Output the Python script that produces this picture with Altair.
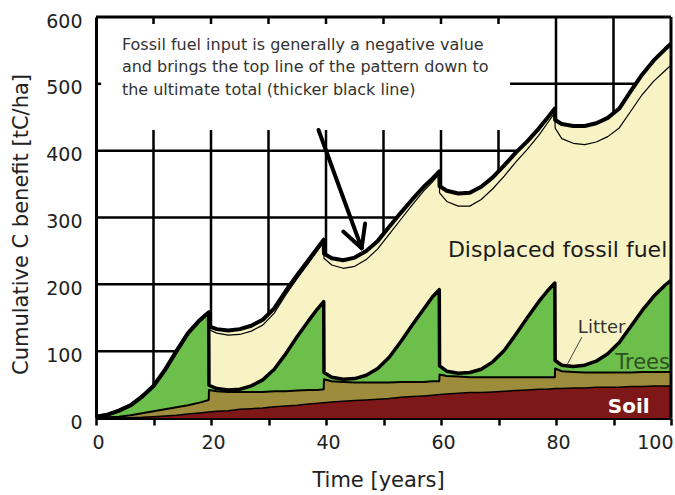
import altair as alt
import pandas as pd

FONT = "DejaVu Sans"

# ---- data (years, tC/ha) ----
t = [0, 2, 4, 6, 8, 10, 12, 14, 16, 18, 19.6,
     19.65, 21, 23, 25, 27, 29, 31, 33, 35, 37, 38.5, 39.6,
     39.65, 41, 43, 45, 47, 49, 51, 53, 55, 57, 58.5, 59.7,
     59.75, 61, 63, 65, 67, 69, 71, 73, 75, 77, 78.5, 79.8,
     79.85, 81, 83, 85, 87, 89, 91, 93, 95, 97, 99, 100]

soil = [0, 0, 0, 0.5, 1, 2, 3, 4, 6, 7.5, 9,
        9, 10, 11, 13, 14, 15, 17, 18, 19, 21, 22, 23,
        23, 24, 25, 26, 27, 28, 29, 31, 32, 33, 34, 35,
        35, 36, 37, 38, 38, 39, 40, 41, 42, 43, 43, 44,
        44, 44, 45, 45, 46, 46, 46, 47, 47, 48, 48, 48]

litter_top = [0, 1, 2, 4, 7, 10, 13, 16, 19, 23, 27,
              42, 40, 39, 39, 39, 39, 40, 40, 41, 42, 42, 43,
              58, 55, 54, 53, 53, 53, 53, 54, 54, 54, 55, 55,
              65, 63, 62, 61, 61, 61, 61, 61, 61, 61, 61, 61,
              74, 70, 69, 68, 68, 68, 68, 68, 69, 69, 69, 69]

trees_top = [2, 5, 11, 19, 32, 48, 72, 100, 127, 146, 158,
             49, 44, 42, 43, 48, 57, 73, 96, 122, 146, 163, 174,
             68, 61, 58, 59, 64, 74, 91, 114, 139, 163, 181, 192,
             78, 70, 67, 68, 73, 84, 101, 125, 150, 174, 190, 202,
             86, 79, 77, 79, 85, 96, 113, 137, 161, 182, 199, 206]

total = [2, 5, 11, 19, 32, 48, 72, 100, 127, 146, 158,
         137, 133, 131, 133, 138, 147, 164, 190, 214, 237, 254, 267,
         246, 239, 236, 240, 250, 265, 286, 307, 327, 346, 358, 369,
         347, 340, 336, 337, 346, 360, 378, 397, 414, 433, 449, 463,
         446, 440, 437, 437, 441, 449, 463, 489, 514, 535, 552, 560]

# offset between the thick total line and the thin line below it
fossil_gap = ([None] * 11
              + [5, 6, 7, 8, 8, 8, 7, 6, 5, 5, 4, 4]
              + [7, 10, 12, 13, 13, 12, 11, 10, 8, 6, 5, 4]
              + [10, 16, 19, 20, 19, 17, 16, 14, 12, 10, 8, 6]
              + [12, 22, 26, 28, 28, 28, 29, 30, 30, 31, 32, 32])

# grid pieces
vgrid_t = [10, 20, 30, 40, 50, 60, 70, 80, 90]
vgrid_top = [431, 431, 431, 431, 431, 431, 431, 600, 600]
hgrid_v = [100, 200, 300, 400, 500]
hgrid_start = [0, 0, 0, 0, 72]
top_ticks_t = [10, 20, 30, 40, 50, 60, 70]

# annotation
note_lines = ["Fossil fuel input is generally a negative value",
              "and brings the top line of the pattern down to",
              "the ultimate total (thicker black line)"]
note_v = [551, 518, 484]
arrow_x = [38.7, 43.0, 46.8]
arrow_y = [431, 279, 291]
arrow_tip = (46.2, 254)
litter_leader = (84.5, 121, 82.0, 81)

# ---- tables ----
df = pd.DataFrame({
    "t": t, "zero": [0.0] * len(t), "soil": soil, "litter": litter_top,
    "trees": trees_top, "total": total,
    "thin": [None if g is None else tot - g for tot, g in zip(total, fossil_gap)],
})
df["i"] = range(len(df))

seg_rows = []
for x, top in zip(vgrid_t, vgrid_top):
    seg_rows.append(dict(x=x, x2=x, y=0, y2=top))
for v, s in zip(hgrid_v, hgrid_start):
    seg_rows.append(dict(x=s, x2=100, y=v, y2=v))
for x in top_ticks_t:
    seg_rows.append(dict(x=x, x2=x, y=600, y2=589.5))
seg_rows.append(dict(x=0, x2=0.9, y=500, y2=500))
grid_df = pd.DataFrame(seg_rows)

frame_df = pd.DataFrame([dict(x=0, x2=100, y=600, y2=600),
                         dict(x=100, x2=100, y=0, y2=600)])

arrow_df = pd.DataFrame([dict(x=ax, x2=arrow_tip[0], y=ay, y2=arrow_tip[1])
                         for ax, ay in zip(arrow_x, arrow_y)])
leader_df = pd.DataFrame([dict(x=litter_leader[0], y=litter_leader[1],
                               x2=litter_leader[2], y2=litter_leader[3])])

note_df = pd.DataFrame({"x": [4.5] * 3, "y": note_v, "text": note_lines})

XS = alt.Scale(domain=[0, 100], nice=False, zero=False)
YS = alt.Scale(domain=[0, 600], nice=False, zero=False)


def X(f):
    return alt.X(f, type="quantitative", scale=XS)


def Y(f):
    return alt.Y(f, type="quantitative", scale=YS)


xaxis = alt.Axis(
    values=list(range(0, 101, 10)),
    labelExpr="datum.value % 20 == 0 ? datum.label : ''",
    labelAlign={"condition": {"test": "datum.value == 100", "value": "right"},
                "value": "center"},
    tickSize=7, tickWidth=2.5, tickColor="black",
    domainColor="black", domainWidth=3,
    labelFont=FONT, labelFontSize=19, labelColor="#222",
    labelPadding=8, labelOffset=2, labelFlush=False, labelOverlap=False,
    title="Time [years]", titleFont=FONT, titleFontSize=21,
    titleFontWeight="normal", titleColor="#222",
    titleX=282, titleY=68, titleBaseline="alphabetic",
    grid=False)

yaxis = alt.Axis(
    values=list(range(0, 601, 100)), ticks=False,
    domainColor="black", domainWidth=3,
    labelFont=FONT, labelFontSize=19, labelColor="#222",
    labelPadding=14, labelOffset=4, labelFlush=False,
    title="Cumulative C benefit [tC/ha]", titleFont=FONT, titleFontSize=21,
    titleFontWeight="normal", titleColor="#222",
    titleX=-65, titleY=207, grid=False)

grid = alt.Chart(grid_df).mark_rule(color="black", strokeWidth=2.5).encode(
    x=alt.X("x:Q", scale=XS, axis=xaxis),
    y=alt.Y("y:Q", scale=YS, axis=yaxis),
    x2="x2:Q", y2="y2:Q")

base = alt.Chart(df)
order = alt.Order("i:Q")


def band(lo, hi, color):
    return base.mark_area(fill=color, opacity=1, stroke=None).encode(
        x=X("t"), y=alt.Y(hi, type="quantitative", scale=YS, stack=None),
        y2=alt.Y2(lo))


soil_area = band("zero", "soil", "#7d1718")
litter_area = band("soil", "litter", "#9c8c3c")
trees_area = band("litter", "trees", "#6cbf4a")
fuel_area = band("trees", "total", "#f8f3c5")


def line(field, w):
    return base.mark_line(color="black", strokeWidth=w, strokeJoin="round").encode(
        x=X("t"), y=Y(field), order=order)


soil_line = line("soil", 1.5)
litter_line = line("litter", 2)
trees_line = line("trees", 3.5)
thin_line = line("thin", 1.2)
total_line = line("total", 4)

frame = alt.Chart(frame_df).mark_rule(color="black", strokeWidth=3).encode(
    x=X("x"), x2="x2:Q", y=Y("y"), y2="y2:Q")

arrow = alt.Chart(arrow_df).mark_rule(color="black", strokeWidth=4, strokeCap="round").encode(
    x=X("x"), x2="x2:Q", y=Y("y"), y2="y2:Q")

leader = alt.Chart(leader_df).mark_rule(color="#444", strokeWidth=1).encode(
    x=X("x"), x2="x2:Q", y=Y("y"), y2="y2:Q")

note = alt.Chart(note_df).mark_text(
    font=FONT, fontSize=16, color="#333", align="left", baseline="alphabetic"
).encode(x=X("x"), y=Y("y"), text="text:N")


def label(txt, x, y, size, color, weight="normal"):
    d = pd.DataFrame({"x": [x], "y": [y], "text": [txt]})
    return alt.Chart(d).mark_text(
        font=FONT, fontSize=size, color=color, fontWeight=weight,
        align="left", baseline="alphabetic"
    ).encode(x=X("x"), y=Y("y"), text="text:N")


lab_fuel = label("Displaced fossil fuel", 61.2, 241, 22, "#1a1a1a")
lab_litter = label("Litter", 83.8, 127, 18, "#333")
lab_trees = label("Trees", 90.3, 73, 21, "#2f4f25")
lab_soil = label("Soil", 89.0, 7, 20, "white", "bold")

chart = alt.layer(
    grid, soil_area, litter_area, trees_area, fuel_area,
    soil_line, litter_line, thin_line, trees_line, total_line,
    lab_fuel, lab_litter, leader, lab_trees, lab_soil,
    frame, arrow, note
).properties(
    width=575, height=401,
    autosize=alt.AutoSizeParams(type="none"),
    padding={"left": 96, "top": 17, "right": 4, "bottom": 77},
    background="white"
).configure_view(stroke=None).configure_axis(zindex=1)

chart.save("out.html", embed_options={"renderer": "svg", "actions": False})
